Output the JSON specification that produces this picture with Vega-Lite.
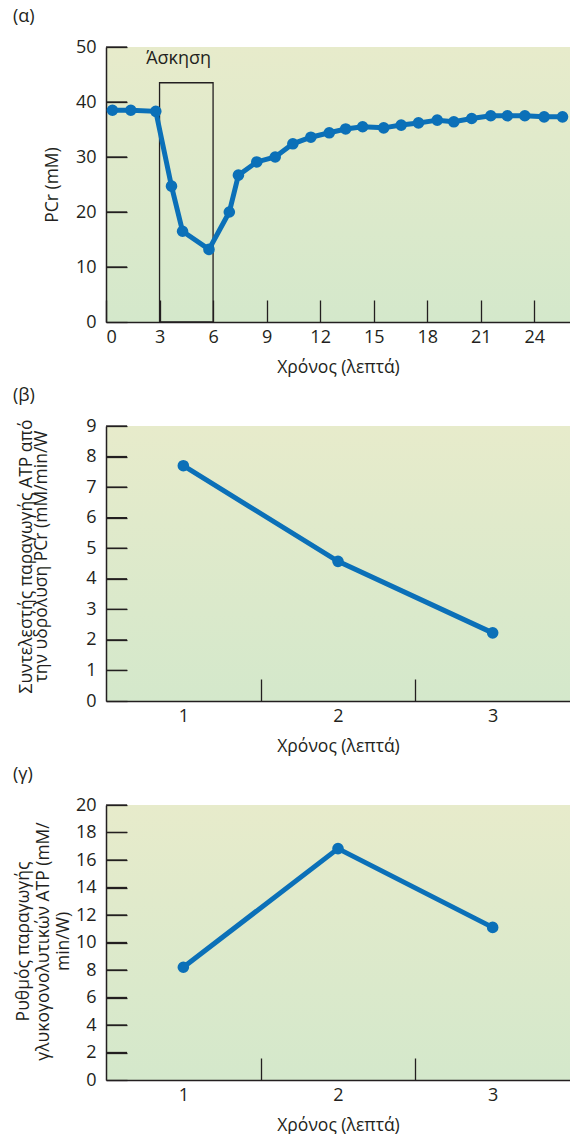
{
  "$schema": "https://vega.github.io/schema/vega-lite/v6.json",
  "padding": {"left": 13, "top": 8, "right": 0, "bottom": 0},
  "spacing": 11,
  "config": {
    "font": "Open Sans",
    "view": {"stroke": null},
    "axis": {
      "domainColor": "#231f20", "domainWidth": 1.5,
      "tickColor": "#231f20", "tickWidth": 1.3,
      "labelColor": "#231f20", "titleColor": "#231f20",
      "labelFontSize": 18, "titleFontSize": 17.5, "titleFontWeight": "normal",
      "labelFont": "Open Sans", "titleFont": "Open Sans", "grid": false, "zindex": 1
    },
    "axisX": {"tickSize": -22, "labelPadding": 28, "titlePadding": 12},
    "axisY": {"tickSize": -21, "labelPadding": 31, "titleBaseline": "alphabetic", "titleAngle": -90},
    "title": {"fontSize": 18, "fontWeight": "normal", "anchor": "start", "color": "#231f20", "frame": "group", "dx": -93, "offset": 12}
  },
  "datasets": {
    "pcr": [
      {"t": 0.36, "v": 38.5}, {"t": 1.39, "v": 38.5}, {"t": 2.79, "v": 38.3},
      {"t": 3.67, "v": 24.7}, {"t": 4.29, "v": 16.5}, {"t": 5.77, "v": 13.2},
      {"t": 6.91, "v": 20.0}, {"t": 7.42, "v": 26.7}, {"t": 8.45, "v": 29.1},
      {"t": 9.48, "v": 30.0}, {"t": 10.47, "v": 32.4}, {"t": 11.48, "v": 33.6},
      {"t": 12.51, "v": 34.4}, {"t": 13.43, "v": 35.1}, {"t": 14.38, "v": 35.5},
      {"t": 15.56, "v": 35.3}, {"t": 16.54, "v": 35.8}, {"t": 17.51, "v": 36.2},
      {"t": 18.56, "v": 36.7}, {"t": 19.49, "v": 36.4}, {"t": 20.49, "v": 37.0},
      {"t": 21.56, "v": 37.5}, {"t": 22.49, "v": 37.5}, {"t": 23.47, "v": 37.5},
      {"t": 24.55, "v": 37.3}, {"t": 25.58, "v": 37.3}
    ],
    "box": [{"t": 3, "t2": 6, "v": 43.5, "v2": 0, "label": "Άσκηση", "lt": 4.07, "lv": 47.8}],
    "ticksA": [{"v": 10}, {"v": 20}, {"v": 30}, {"v": 40}, {"v": 50}],
    "ticksB": [{"y": 1}, {"y": 2}, {"y": 3}, {"y": 4}, {"y": 5}, {"y": 6}, {"y": 7}, {"y": 8}, {"y": 9}],
    "ticksC": [{"y": 2}, {"y": 4}, {"y": 6}, {"y": 8}, {"y": 10}, {"y": 12}, {"y": 14}, {"y": 16}, {"y": 18}, {"y": 20}],
    "coef": [{"x": 1, "y": 7.7}, {"x": 2, "y": 4.57}, {"x": 3, "y": 2.23}],
    "glyc": [{"x": 1, "y": 8.2}, {"x": 2, "y": 16.83}, {"x": 3, "y": 11.1}]
  },
  "vconcat": [
    {
      "title": {"text": "(α)"},
      "width": 464, "height": 275,
      "view": {"stroke": null, "fill": {"gradient": "linear", "x1": 0, "y1": 0, "x2": 0, "y2": 1, "stops": [{"offset": 0, "color": "#e7ebcb"}, {"offset": 1, "color": "#d4e8cb"}]}},
      "layer": [
        {
          "data": {"name": "ticksA"},
          "mark": {"type": "rule", "color": "#231f20", "strokeWidth": 1.3},
          "encoding": {
            "x": {"datum": 0},
            "x2": {"datum": 1.18},
            "y": {"field": "v", "type": "quantitative", "axis": {"title": "PCr (mM)"}}
          }
        },
        {
          "data": {"name": "box"},
          "mark": {"type": "rect", "fill": null, "stroke": "#231f20", "strokeWidth": 1.3},
          "encoding": {
            "x": {"field": "t", "type": "quantitative", "axis": {"title": "Χρόνος (λεπτά)"}},
            "x2": {"field": "t2"},
            "y": {"field": "v", "type": "quantitative", "axis": {"title": "PCr (mM)"}},
            "y2": {"field": "v2"}
          }
        },
        {
          "data": {"name": "box"},
          "mark": {"type": "text", "fontSize": 18, "color": "#231f20", "align": "center", "baseline": "middle"},
          "encoding": {
            "x": {"field": "lt", "type": "quantitative", "axis": {"title": "Χρόνος (λεπτά)"}},
            "y": {"field": "lv", "type": "quantitative", "axis": {"title": "PCr (mM)"}},
            "text": {"field": "label"}
          }
        },
        {
          "data": {"name": "pcr"},
          "mark": {"type": "line", "color": "#0b70b8", "strokeWidth": 5, "point": {"filled": true, "size": 135, "color": "#0b70b8", "opacity": 1}},
          "encoding": {
            "x": {"field": "t", "type": "quantitative", "scale": {"domain": [0, 26], "nice": false},
                  "axis": {"title": "Χρόνος (λεπτά)", "values": [0, 3, 6, 9, 12, 15, 18, 21, 24]}},
            "y": {"field": "v", "type": "quantitative", "scale": {"domain": [0, 50], "nice": false},
                  "axis": {"title": "PCr (mM)", "values": [0, 10, 20, 30, 40, 50], "titleX": -49, "titleY": 137.5}}
          }
        }
      ]
    },
    {
      "title": {"text": "(β)"},
      "width": 464, "height": 275,
      "view": {"stroke": null, "fill": {"gradient": "linear", "x1": 0, "y1": 0, "x2": 0, "y2": 1, "stops": [{"offset": 0, "color": "#e7ebcb"}, {"offset": 1, "color": "#d4e8cb"}]}},
      "layer": [
        {
          "data": {"name": "ticksB"},
          "mark": {"type": "rule", "color": "#231f20", "strokeWidth": 1.3},
          "encoding": {
            "x": {"datum": 0.5, "type": "quantitative", "scale": {"domain": [0.5, 3.5], "nice": false, "zero": false},
                  "axis": {"title": "Χρόνος (λεπτά)", "values": [1, 1.5, 2, 2.5, 3],
                           "labelExpr": "datum.value % 1 === 0 ? format(datum.value, 'd') : ''",
                           "tickOpacity": {"condition": {"test": "datum.value % 1 === 0", "value": 0}, "value": 1}}},
            "x2": {"datum": 0.636},
            "y": {"field": "y", "type": "quantitative", "scale": {"domain": [0, 9], "nice": false},
                  "axis": {"title": ["Συντελεστής παραγωγής ATP από", "την υδρόλυση PCr (mM/min/W"], "values": [0, 1, 2, 3, 4, 5, 6, 7, 8, 9],
                           "titleX": -75, "titleY": 130, "titleLineHeight": 15}}
          }
        },
        {
          "data": {"name": "coef"},
          "mark": {"type": "line", "color": "#0b70b8", "strokeWidth": 5, "point": {"filled": true, "size": 135, "color": "#0b70b8", "opacity": 1}},
          "encoding": {
            "x": {"field": "x", "type": "quantitative", "scale": {"domain": [0.5, 3.5], "nice": false, "zero": false},
                  "axis": {"title": "Χρόνος (λεπτά)", "values": [1, 1.5, 2, 2.5, 3],
                           "labelExpr": "datum.value % 1 === 0 ? format(datum.value, 'd') : ''",
                           "tickOpacity": {"condition": {"test": "datum.value % 1 === 0", "value": 0}, "value": 1}}},
            "y": {"field": "y", "type": "quantitative", "scale": {"domain": [0, 9], "nice": false},
                  "axis": {"title": ["Συντελεστής παραγωγής ATP από", "την υδρόλυση PCr (mM/min/W"], "values": [0, 1, 2, 3, 4, 5, 6, 7, 8, 9],
                           "titleX": -75, "titleY": 130, "titleLineHeight": 15}}
          }
        }
      ]
    },
    {
      "title": {"text": "(γ)"},
      "width": 464, "height": 275,
      "view": {"stroke": null, "fill": {"gradient": "linear", "x1": 0, "y1": 0, "x2": 0, "y2": 1, "stops": [{"offset": 0, "color": "#e7ebcb"}, {"offset": 1, "color": "#d4e8cb"}]}},
      "layer": [
        {
          "data": {"name": "ticksC"},
          "mark": {"type": "rule", "color": "#231f20", "strokeWidth": 1.3},
          "encoding": {
            "x": {"datum": 0.5, "type": "quantitative", "scale": {"domain": [0.5, 3.5], "nice": false, "zero": false},
                  "axis": {"title": "Χρόνος (λεπτά)", "values": [1, 1.5, 2, 2.5, 3],
                           "labelExpr": "datum.value % 1 === 0 ? format(datum.value, 'd') : ''",
                           "tickOpacity": {"condition": {"test": "datum.value % 1 === 0", "value": 0}, "value": 1}}},
            "x2": {"datum": 0.636},
            "y": {"field": "y", "type": "quantitative", "scale": {"domain": [0, 20], "nice": false},
                  "axis": {"title": ["Ρυθμός παραγωγής", "γλυκογονολυτικών ATP (mM/", "min/W)"], "values": [0, 2, 4, 6, 8, 10, 12, 14, 16, 18, 20],
                           "titleX": -78, "titleY": 136, "titleLineHeight": 20}}
          }
        },
        {
          "data": {"name": "glyc"},
          "mark": {"type": "line", "color": "#0b70b8", "strokeWidth": 5, "point": {"filled": true, "size": 135, "color": "#0b70b8", "opacity": 1}},
          "encoding": {
            "x": {"field": "x", "type": "quantitative", "scale": {"domain": [0.5, 3.5], "nice": false, "zero": false},
                  "axis": {"title": "Χρόνος (λεπτά)", "values": [1, 1.5, 2, 2.5, 3],
                           "labelExpr": "datum.value % 1 === 0 ? format(datum.value, 'd') : ''",
                           "tickOpacity": {"condition": {"test": "datum.value % 1 === 0", "value": 0}, "value": 1}}},
            "y": {"field": "y", "type": "quantitative", "scale": {"domain": [0, 20], "nice": false},
                  "axis": {"title": ["Ρυθμός παραγωγής", "γλυκογονολυτικών ATP (mM/", "min/W)"], "values": [0, 2, 4, 6, 8, 10, 12, 14, 16, 18, 20],
                           "titleX": -78, "titleY": 136, "titleLineHeight": 20}}
          }
        }
      ]
    }
  ]
}
